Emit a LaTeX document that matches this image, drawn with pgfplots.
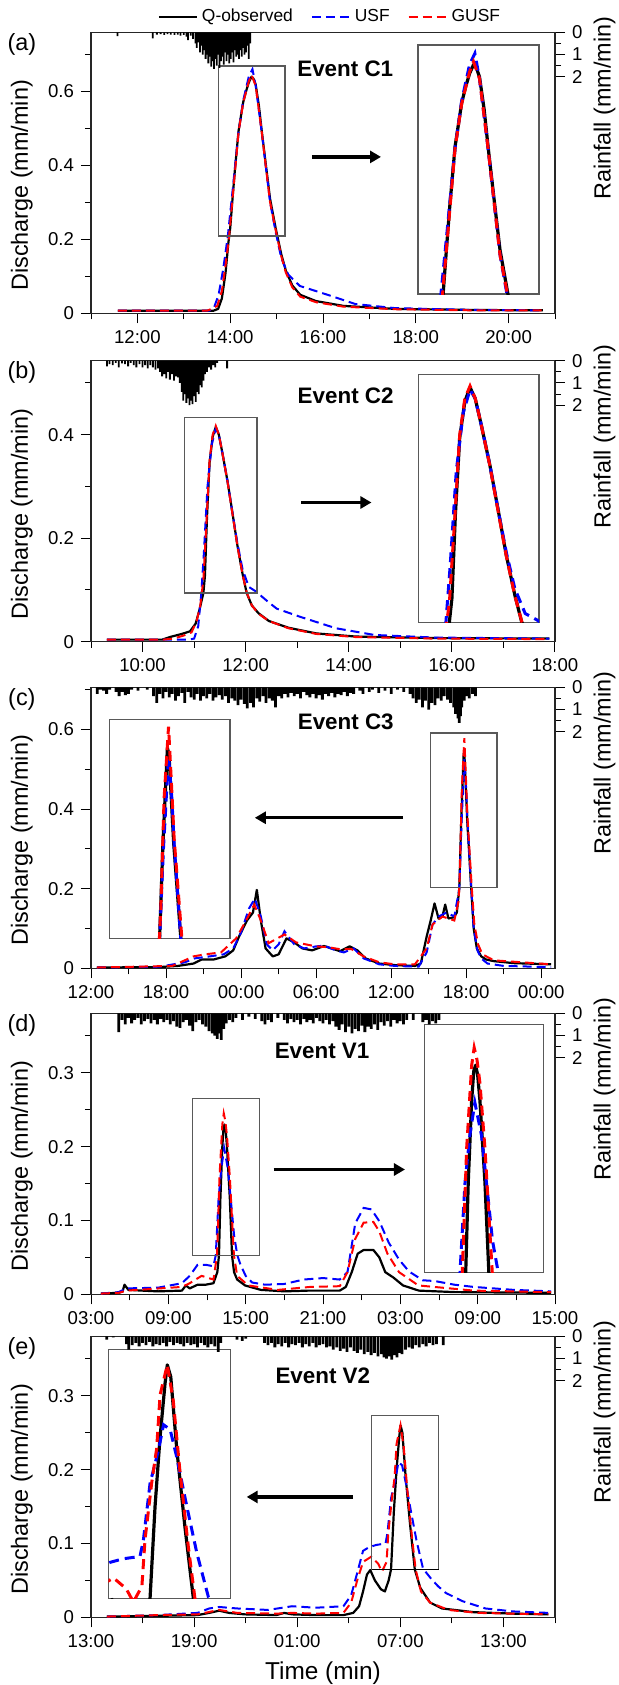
\documentclass[border=0pt]{standalone}
\usepackage{fontspec}
\setmainfont{Liberation Sans}
\usepackage{pgfplots}
\pgfplotsset{compat=1.18}
\usepackage{pgfplotstable}
\usetikzlibrary{arrows.meta}

\newcommand\tickfont{\fontsize{9.3}{10}\selectfont}
\newcommand\labfont{\fontsize{11.7}{12}\selectfont}
\newcommand\evfont{\bfseries\fontsize{11.2}{12}\selectfont}

% ---------------- Event C1 ----------------
\pgfplotstableread{
t q
11.58 0.007
13.64 0.007
13.74 0.012
13.82 0.040
13.90 0.110
13.96 0.190
14.00 0.230
14.05 0.310
14.10 0.386
14.18 0.493
14.28 0.571
14.34 0.600
14.40 0.624
14.46 0.640
14.50 0.635
14.55 0.618
14.62 0.560
14.68 0.493
14.77 0.400
14.86 0.309
14.98 0.230
15.10 0.160
15.20 0.115
15.34 0.075
15.51 0.050
15.85 0.033
16.44 0.020
17.55 0.012
19.25 0.009
20.74 0.008
}\obsA
\pgfplotstableread{
t q
11.58 0.007
13.55 0.007
13.65 0.015
13.75 0.050
13.85 0.120
13.95 0.210
14.05 0.330
14.18 0.490
14.28 0.575
14.40 0.640
14.48 0.660
14.55 0.615
14.68 0.490
14.86 0.300
14.98 0.220
15.10 0.150
15.25 0.105
15.50 0.074
16.10 0.050
16.70 0.025
17.55 0.014
19.25 0.009
20.74 0.008
}\usfA
\pgfplotstableread{
t q
11.58 0.007
13.50 0.007
13.62 0.013
13.72 0.020
13.82 0.060
13.90 0.130
13.97 0.200
14.05 0.310
14.18 0.490
14.28 0.570
14.40 0.627
14.46 0.645
14.55 0.615
14.68 0.490
14.86 0.300
14.98 0.225
15.10 0.155
15.20 0.110
15.34 0.070
15.51 0.045
15.85 0.030
16.44 0.018
17.55 0.011
19.25 0.008
20.74 0.008
}\gusfA
\pgfplotstableread{
t r
11.57 0.17
12.33 0.27
12.42 0.10
12.50 0.08
12.58 0.12
12.65 0.08
12.72 0.10
12.80 0.12
12.87 0.10
12.93 0.15
13.00 0.12
13.06 0.20
13.09 0.35
13.15 0.15
13.20 0.30
13.25 0.50
13.28 0.70
13.32 0.45
13.35 0.90
13.38 0.60
13.41 1.00
13.44 0.80
13.47 1.20
13.50 1.00
13.53 1.40
13.56 1.10
13.59 1.55
13.62 1.30
13.65 1.65
13.68 1.20
13.71 1.50
13.74 1.00
13.77 1.60
13.80 1.30
13.83 1.10
13.86 1.45
13.89 0.90
13.92 1.30
13.95 1.00
13.98 1.40
14.01 1.20
14.04 0.90
14.07 1.35
14.10 0.80
14.13 1.10
14.16 1.00
14.19 1.20
14.22 0.80
14.25 1.10
14.28 0.70
14.31 1.00
14.34 0.90
14.37 0.60
14.40 1.20
14.43 0.50
}\rainA

% ---------------- Event C2 ----------------
\pgfplotstableread{
t q
9.31 0.004
10.38 0.004
10.53 0.009
10.76 0.015
10.92 0.020
11.03 0.035
11.10 0.060
11.18 0.094
11.21 0.127
11.25 0.241
11.30 0.346
11.36 0.396
11.42 0.415
11.48 0.400
11.55 0.364
11.65 0.309
11.75 0.245
11.84 0.186
11.94 0.131
12.02 0.094
12.12 0.070
12.25 0.055
12.45 0.040
12.83 0.027
13.37 0.016
14.13 0.010
15.67 0.007
17.89 0.006
}\obsB
\pgfplotstableread{
t q
9.31 0.004
10.90 0.004
11.00 0.006
11.08 0.030
11.14 0.094
11.19 0.172
11.26 0.300
11.34 0.380
11.42 0.412
11.48 0.400
11.55 0.364
11.65 0.309
11.75 0.245
11.84 0.190
11.94 0.140
12.06 0.106
12.20 0.097
12.40 0.080
12.60 0.064
13.06 0.048
13.75 0.026
14.50 0.013
15.67 0.008
17.89 0.006
}\usfB
\pgfplotstableread{
t q
9.31 0.004
10.40 0.004
10.60 0.006
10.80 0.012
10.95 0.018
11.05 0.040
11.12 0.070
11.18 0.120
11.25 0.250
11.30 0.350
11.36 0.400
11.42 0.417
11.48 0.400
11.55 0.364
11.65 0.308
11.75 0.243
11.84 0.185
11.94 0.130
12.02 0.095
12.12 0.070
12.25 0.054
12.45 0.040
12.83 0.026
13.37 0.015
14.13 0.009
15.67 0.006
17.89 0.005
}\gusfB
\pgfplotstableread{
t r
9.31 0.25
9.36 0.15
9.42 0.20
9.48 0.10
9.54 0.30
9.60 0.12
9.66 0.15
9.72 0.25
9.77 0.10
9.83 0.20
9.88 0.30
9.94 0.15
10.00 0.30
10.05 0.20
10.10 0.35
10.15 0.20
10.20 0.30
10.25 0.40
10.30 0.35
10.34 0.50
10.38 0.70
10.42 0.60
10.46 0.80
10.50 0.50
10.53 0.85
10.57 0.60
10.61 0.90
10.65 0.70
10.69 0.75
10.72 1.00
10.76 1.40
10.79 1.80
10.82 1.50
10.85 1.90
10.88 1.70
10.91 2.00
10.94 1.80
10.97 1.95
11.00 1.60
11.03 1.85
11.06 1.40
11.09 1.50
11.12 1.10
11.15 1.20
11.18 0.90
11.21 0.60
11.25 0.50
11.29 0.30
11.33 0.40
11.37 0.20
11.41 0.30
11.45 0.10
11.64 0.35
}\rainB

% ---------------- Event C3 ----------------
\pgfplotstableread{
t q
12.47 0.002
17.37 0.003
18.95 0.006
20.20 0.012
20.84 0.022
21.79 0.022
22.74 0.030
23.37 0.045
23.84 0.080
24.47 0.120
24.95 0.140
25.26 0.197
25.58 0.120
25.96 0.050
26.53 0.030
27.00 0.035
27.63 0.075
28.26 0.065
28.90 0.050
29.68 0.045
30.63 0.056
31.42 0.048
31.90 0.043
32.68 0.055
33.31 0.045
33.94 0.025
35.05 0.012
36.30 0.008
37.90 0.006
38.37 0.012
38.84 0.080
39.16 0.120
39.47 0.163
39.79 0.125
40.10 0.130
40.32 0.160
40.58 0.125
41.00 0.128
41.25 0.140
41.45 0.202
41.60 0.371
41.80 0.540
41.87 0.528
42.08 0.371
42.40 0.202
42.60 0.100
42.85 0.050
43.20 0.030
43.60 0.022
44.21 0.018
45.79 0.013
48.79 0.010
}\obsC
\pgfplotstableread{
t q
12.47 0.002
17.50 0.004
19.50 0.015
20.30 0.025
21.50 0.030
22.60 0.035
23.37 0.050
24.00 0.090
24.63 0.150
25.10 0.175
25.58 0.130
26.06 0.060
26.53 0.045
27.00 0.060
27.47 0.093
28.26 0.060
29.05 0.050
30.00 0.055
30.63 0.057
31.58 0.045
32.21 0.040
33.00 0.050
33.79 0.025
35.05 0.010
36.30 0.006
38.20 0.004
38.84 0.040
39.31 0.110
39.79 0.130
40.42 0.140
41.05 0.130
41.45 0.200
41.62 0.360
41.85 0.525
42.00 0.450
42.10 0.370
42.40 0.200
42.60 0.100
42.90 0.045
43.20 0.025
43.70 0.012
45.00 0.006
48.79 0.003
}\usfC
\pgfplotstableread{
t q
12.47 0.002
18.50 0.006
20.20 0.030
21.10 0.035
22.40 0.040
23.60 0.075
24.40 0.120
25.05 0.160
25.58 0.120
26.20 0.063
27.47 0.085
28.40 0.065
30.00 0.055
30.95 0.053
31.90 0.048
32.84 0.048
33.79 0.030
35.05 0.015
36.30 0.010
37.90 0.010
38.84 0.050
39.31 0.110
40.10 0.130
41.05 0.120
41.40 0.170
41.50 0.250
41.65 0.450
41.85 0.578
41.95 0.500
42.10 0.380
42.45 0.200
42.65 0.110
42.95 0.060
43.30 0.035
44.21 0.020
48.79 0.010
}\gusfC
\pgfplotstableread{
t r
12.50 0.30
12.75 0.10
13.00 0.15
13.25 0.30
13.50 0.10
14.00 0.20
14.25 0.40
14.50 0.20
14.75 0.35
15.00 0.30
15.25 0.10
15.75 0.15
16.50 0.10
17.00 0.40
17.25 0.70
17.50 0.30
17.75 0.50
18.00 0.20
18.25 0.45
18.50 0.30
18.75 0.60
19.00 0.40
19.25 0.25
19.50 0.70
19.75 0.20
20.00 0.45
20.25 0.55
20.50 0.30
20.75 0.60
21.00 0.40
21.25 0.50
21.50 0.30
21.75 0.60
22.00 0.45
22.25 0.35
22.50 0.55
22.75 0.40
23.00 0.70
23.25 0.50
23.50 0.60
23.75 0.80
24.00 0.55
24.25 0.75
24.50 0.95
24.75 0.70
25.00 0.90
25.25 0.50
25.50 0.65
25.75 0.40
26.00 0.70
26.25 0.50
26.50 0.60
26.75 0.90
27.00 0.40
27.25 0.50
27.50 0.30
27.75 0.45
28.00 0.25
28.25 0.40
28.50 0.30
28.75 0.50
29.00 0.20
29.25 0.35
29.50 0.45
29.75 0.30
30.00 0.50
30.25 0.35
30.50 0.55
30.75 0.30
31.00 0.40
31.25 0.25
31.50 0.45
31.75 0.30
32.00 0.35
32.25 0.20
32.50 0.40
32.75 0.25
33.00 0.30
33.50 0.15
33.75 0.30
34.25 0.20
34.50 0.10
35.00 0.25
35.50 0.15
36.00 0.30
36.50 0.10
37.00 0.20
37.50 0.30
37.75 0.50
38.00 0.70
38.25 0.55
38.50 0.90
38.75 0.60
39.00 1.00
39.25 0.70
39.50 0.80
39.75 0.50
40.00 0.60
40.25 0.40
40.50 0.55
40.75 0.70
41.00 0.90
41.15 1.20
41.25 1.00
41.35 1.40
41.45 1.60
41.55 1.30
41.65 0.90
41.85 0.60
42.00 0.40
42.25 0.50
42.50 0.30
42.75 0.40
}\rainC

% ---------------- Event V1 ----------------
\pgfplotstableread{
t q
3.77 0.001
5.15 0.002
5.45 0.004
5.60 0.013
5.90 0.006
6.98 0.005
8.20 0.004
10.05 0.005
10.36 0.012
10.66 0.008
11.27 0.013
11.89 0.013
12.50 0.015
12.80 0.030
12.93 0.053
13.04 0.130
13.19 0.200
13.28 0.225
13.36 0.230
13.45 0.222
13.55 0.200
13.77 0.130
13.94 0.053
14.10 0.030
14.34 0.020
14.95 0.012
16.18 0.006
18.02 0.004
19.85 0.005
22.30 0.005
22.77 0.010
23.23 0.030
23.69 0.055
24.15 0.060
24.60 0.060
24.91 0.060
25.37 0.050
25.83 0.030
26.44 0.023
27.21 0.012
28.44 0.005
31.20 0.003
38.70 0.002
}\obsD
\pgfplotstableread{
t q
3.77 0.001
5.15 0.003
5.75 0.008
8.20 0.009
10.05 0.015
10.66 0.025
11.27 0.040
11.89 0.040
12.50 0.038
12.68 0.053
12.90 0.130
13.11 0.170
13.33 0.198
13.62 0.170
13.91 0.116
14.10 0.080
14.35 0.053
14.60 0.040
15.00 0.025
15.50 0.016
16.50 0.013
18.00 0.014
19.50 0.020
21.00 0.022
22.30 0.020
22.90 0.030
23.50 0.096
24.15 0.117
24.76 0.115
25.37 0.099
26.10 0.070
26.90 0.047
27.67 0.031
28.74 0.019
29.66 0.018
31.20 0.013
32.70 0.010
35.80 0.006
38.70 0.004
}\usfD
\pgfplotstableread{
t q
3.77 0.001
5.15 0.002
5.75 0.005
10.05 0.010
10.66 0.015
11.58 0.025
12.50 0.020
12.78 0.053
12.97 0.159
13.19 0.230
13.30 0.245
13.42 0.235
13.55 0.215
13.77 0.159
14.09 0.053
14.34 0.025
15.20 0.012
17.50 0.006
20.00 0.010
22.30 0.011
22.90 0.030
23.50 0.075
24.15 0.097
24.91 0.098
25.37 0.085
26.00 0.055
26.90 0.030
28.40 0.012
32.70 0.005
38.70 0.003
}\gusfD
\pgfplotstableread{
t r
5.15 0.85
5.40 0.30
5.65 0.50
5.90 0.20
6.15 0.45
6.40 0.30
6.65 0.20
6.90 0.50
7.15 0.35
7.40 0.25
7.65 0.45
7.90 0.30
8.15 0.50
8.40 0.25
8.65 0.40
8.90 0.30
9.15 0.50
9.40 0.35
9.65 0.60
9.90 0.65
10.15 0.40
10.40 0.30
10.65 0.55
10.90 0.80
11.15 0.40
11.40 0.30
11.65 0.50
11.90 0.60
12.15 0.80
12.40 0.90
12.60 1.00
12.80 1.15
12.95 0.90
13.10 1.20
13.30 0.70
13.50 0.45
13.75 0.30
14.00 0.40
14.25 0.20
14.75 0.30
15.25 0.15
15.75 0.25
16.25 0.35
16.50 0.50
16.75 0.30
17.00 0.40
17.50 0.20
18.00 0.30
18.25 0.45
18.50 0.25
18.75 0.40
19.00 0.30
19.25 0.50
19.50 0.25
19.75 0.40
20.00 0.30
20.25 0.45
20.50 0.20
20.75 0.35
21.00 0.45
21.25 0.30
21.50 0.50
21.75 0.35
22.00 0.60
22.25 0.75
22.50 0.50
22.75 0.85
23.00 0.60
23.25 0.90
23.50 0.70
23.75 0.80
24.00 0.55
24.25 0.85
24.50 0.60
24.75 0.70
25.00 0.50
25.25 0.75
25.50 0.40
25.75 0.55
26.00 0.35
26.25 0.60
26.50 0.30
26.75 0.45
27.00 0.35
27.25 0.50
27.50 0.30
28.00 0.30
28.75 0.40
29.00 0.30
29.25 0.50
29.50 0.35
29.75 0.45
30.00 0.30
}\rainD

% ---------------- Event V2 ----------------
\pgfplotstableread{
t q
13.92 0.001
16.90 0.002
19.20 0.003
19.88 0.006
20.46 0.009
21.03 0.006
21.95 0.004
23.78 0.003
24.24 0.006
24.70 0.004
26.08 0.003
27.69 0.003
28.26 0.006
28.60 0.015
28.83 0.035
29.06 0.058
29.25 0.064
29.52 0.050
29.87 0.038
30.10 0.035
30.32 0.050
30.46 0.065
30.62 0.142
30.78 0.200
30.94 0.245
31.01 0.260
31.12 0.250
31.31 0.190
31.57 0.125
31.84 0.065
32.16 0.040
32.73 0.020
33.42 0.012
35.26 0.007
37.55 0.005
39.62 0.004
}\obsE
\pgfplotstableread{
t q
13.92 0.001
16.90 0.003
19.20 0.006
19.88 0.012
20.46 0.014
21.50 0.012
23.30 0.010
24.70 0.015
26.08 0.013
27.69 0.015
28.14 0.030
28.49 0.060
28.83 0.090
29.18 0.095
29.60 0.098
30.14 0.100
30.25 0.114
30.46 0.161
30.73 0.189
30.89 0.210
31.10 0.206
31.31 0.183
31.63 0.142
31.95 0.103
32.32 0.066
32.80 0.052
33.20 0.042
33.65 0.033
34.60 0.022
35.95 0.012
37.55 0.008
39.62 0.006
}\usfE
\pgfplotstableread{
t q
13.92 0.001
16.90 0.003
19.20 0.004
20.46 0.010
21.50 0.006
23.80 0.005
24.70 0.006
26.08 0.005
27.69 0.006
28.14 0.020
28.49 0.050
28.83 0.075
29.30 0.082
29.70 0.073
29.93 0.062
30.20 0.075
30.30 0.114
30.51 0.161
30.67 0.190
30.78 0.235
31.01 0.260
31.20 0.230
31.41 0.172
31.68 0.108
31.89 0.065
32.20 0.035
32.73 0.020
33.80 0.010
35.50 0.006
39.62 0.004
}\gusfE
\pgfplotstableread{
t r
13.92 0.15
14.30 0.05
15.07 0.35
15.20 0.60
15.40 0.40
15.60 0.30
15.80 0.45
16.00 0.30
16.20 0.40
16.40 0.25
16.60 0.45
16.80 0.35
17.00 0.40
17.20 0.30
17.40 0.45
17.60 0.25
17.80 0.40
18.00 0.30
18.20 0.35
18.40 0.45
18.60 0.30
18.80 0.40
19.00 0.35
19.20 0.50
19.40 0.30
19.60 0.40
19.80 0.50
20.00 0.35
20.20 0.45
20.40 0.70
20.55 0.30
21.50 0.15
21.80 0.20
22.00 0.10
23.10 0.30
23.30 0.40
23.50 0.30
23.70 0.50
23.90 0.35
24.10 0.45
24.30 0.30
24.50 0.50
24.70 0.35
24.90 0.40
25.10 0.30
25.30 0.50
25.50 0.35
25.70 0.45
25.90 0.30
26.10 0.50
26.30 0.40
26.50 0.35
26.70 0.50
26.90 0.45
27.10 0.60
27.30 0.50
27.50 0.65
27.70 0.55
27.90 0.70
28.10 0.50
28.30 0.65
28.50 0.75
28.70 0.60
28.90 0.80
29.10 0.70
29.30 0.85
29.50 0.75
29.70 0.90
29.90 0.80
30.05 0.95
30.20 1.00
30.35 0.90
30.50 1.05
30.65 0.85
30.80 0.95
30.95 0.75
31.10 0.80
31.30 0.60
31.50 0.50
31.70 0.55
31.90 0.40
32.10 0.50
32.30 0.35
32.50 0.45
32.70 0.30
32.90 0.40
33.10 0.35
33.50 0.40
}\rainE

\tikzset{
  boxst/.style={black!65, line width=0.6pt},
  arr/.style={line width=1.6pt, -{Triangle[length=5.5pt,width=6pt]}},
}
\pgfplotsset{
  obs/.style={black, line width=1.1pt, line join=round},
  usf/.style={blue, line width=1pt, dash pattern=on 4.5pt off 2.5pt},
  gusf/.style={red, line width=1pt, dash pattern=on 4.5pt off 2.5pt},
  iobs/.style={black, line width=1.6pt, line join=round},
  iusf/.style={blue, line width=1.5pt, dash pattern=on 5pt off 3pt},
  igusf/.style={red, line width=1.5pt, dash pattern=on 5pt off 3pt},
  rain/.style={ybar, bar width=0.9pt, fill=black, draw=none},
  wrain/.style={ybar, bar width=1.4pt, fill=black, draw=none},
  mainax/.style={
    scale only axis, width=232pt, height=140.5pt, anchor=south west,
    tick align=outside, xtick pos=left, ytick pos=left,
    major tick length=5pt, minor tick length=3pt,
    tick style={black, line width=0.5pt},
    axis line style={black!85, line width=0.6pt},
    ymin=0, clip=false,
    tick label style={font=\tickfont},
    /pgf/number format/assume math mode=true,
    ylabel={Discharge (mm/min)},
    ylabel style={at={(axis description cs:-0.149,0.455)}, anchor=center, font=\labfont},
  },
  rainax/.style={
    scale only axis, width=232pt, height=140.5pt, anchor=south west,
    axis x line=none, axis y line*=right, y dir=reverse,
    ymin=0, ymax=12.65, ytick={0,1,2}, minor ytick={0.5,1.5},
    tick align=outside, major tick length=5pt, minor tick length=3pt,
    tick style={black, line width=0.5pt},
    axis line style={black!85, line width=0.6pt},
    tick label style={font=\tickfont},
    /pgf/number format/assume math mode=true,
    ylabel={Rainfall (mm/min)},
    ylabel style={at={(axis description cs:1.107,0.73)}, anchor=center, font=\labfont},
  },
  insetax/.style={
    scale only axis, anchor=south west, xtick=\empty, ytick=\empty,
    axis line style={black!65, line width=0.6pt},
    axis background/.style={fill=white}, clip=true,
  },
}

\begin{document}
\begin{tikzpicture}
\useasboundingbox (0,0) rectangle (309.5pt,-842.5pt);

% ===================== (a) =====================
\begin{axis}[mainax, at={(45.5pt,-156.65pt)},
  xmin=11, xmax=21, ymax=0.76,
  xtick={12,14,16,18,20}, xticklabels={12:00,14:00,16:00,18:00,20:00},
  minor xtick={11,13,15,17,19,21},
  ytick={0,0.2,0.4,0.6}, minor ytick={0.1,0.3,0.5,0.7},
  extra description/.code={\node[font=\labfont] at (-0.149,0.957) {(a)};},
  legend columns=3,
  legend style={draw=none, fill=none, at={(0.517,1.055)}, anchor=center,
    font=\fontsize{8.7}{9}\selectfont, inner sep=0pt,
    /tikz/every even column/.append style={column sep=7pt}},
  legend image code/.code={\draw[#1] (0pt,0pt) -- (19pt,0pt);},
]
\addplot[obs] table {\obsA};
\addlegendentry{Q-observed}
\addplot[usf] table {\usfA};
\addlegendentry{USF}
\addplot[gusf] table {\gusfA};
\addlegendentry{GUSF}
\draw[boxst] (axis cs:13.74,0.209) rectangle (axis cs:15.18,0.669);
\draw[arr] (axis cs:15.76,0.423) -- (axis cs:17.25,0.423);
\node[font=\evfont] at (axis cs:16.48,0.662) {Event C1};
\end{axis}
\begin{axis}[insetax, at={(209pt,-147pt)}, width=60.5pt, height=124.5pt,
  xmin=13.62, xmax=15.45, ymin=0.23, ymax=0.675]
\addplot[iobs] table {\obsA};
\addplot[iusf] table {\usfA};
\addplot[igusf] table {\gusfA};
\end{axis}
\begin{axis}[rainax, at={(45.5pt,-156.65pt)}, xmin=11, xmax=21]
\addplot[rain] table {\rainA};
\end{axis}

% ===================== (b) =====================
\begin{axis}[mainax, at={(45.5pt,-320.85pt)},
  xmin=9, xmax=18, ymax=0.543,
  xtick={10,12,14,16,18}, xticklabels={10:00,12:00,14:00,16:00,18:00},
  minor xtick={9,11,13,15,17},
  ytick={0,0.2,0.4}, minor ytick={0.1,0.3,0.5},
  extra description/.code={\node[font=\labfont] at (-0.149,0.957) {(b)};},
]
\addplot[obs] table {\obsB};
\addplot[usf] table {\usfB};
\addplot[gusf] table {\gusfB};
\draw[boxst] (axis cs:10.82,0.094) rectangle (axis cs:12.22,0.433);
\draw[arr] (axis cs:13.08,0.269) -- (axis cs:14.44,0.269);
\node[font=\evfont] at (axis cs:13.94,0.476) {Event C2};
\end{axis}
\begin{axis}[insetax, at={(209.15pt,-311.15pt)}, width=60.35pt, height=124pt,
  xmin=10.82, xmax=12.22, ymin=0.094, ymax=0.433]
\addplot[iobs] table {\obsB};
\addplot[iusf] table {\usfB};
\addplot[igusf] table {\gusfB};
\end{axis}
\begin{axis}[rainax, at={(45.5pt,-320.85pt)}, xmin=9, xmax=18]
\addplot[rain] table {\rainB};
\end{axis}

% ===================== (c) =====================
\begin{axis}[mainax, at={(45.5pt,-484.15pt)},
  xmin=12, xmax=49.1, ymax=0.7056,
  xtick={12,18,24,30,36,42,48},
  xticklabels={12:00,18:00,00:00,06:00,12:00,18:00,00:00},
  minor xtick={15,21,27,33,39,45},
  ytick={0,0.2,0.4,0.6}, minor ytick={0.1,0.3,0.5,0.7},
  extra description/.code={\node[font=\labfont] at (-0.149,0.957) {(c)};},
]
\addplot[obs] table {\obsC};
\addplot[usf] table {\usfC};
\addplot[gusf] table {\gusfC};
\draw[boxst] (axis cs:39.16,0.202) rectangle (axis cs:44.46,0.591);
\draw[arr] (axis cs:36.95,0.378) -- (axis cs:25.1,0.378);
\node[font=\evfont] at (axis cs:32.37,0.618) {Event C3};
\end{axis}
\begin{axis}[insetax, at={(54.65pt,-469.15pt)}, width=60.35pt, height=109.5pt,
  xmin=39.2, xmax=44.6, ymin=0.202, ymax=0.591]
\addplot[iobs] table {\obsC};
\addplot[iusf] table {\usfC};
\addplot[igusf] table {\gusfC};
\end{axis}
\begin{axis}[rainax, at={(45.5pt,-484.15pt)}, xmin=12, xmax=49.1]
\addplot[wrain] table {\rainC};
\end{axis}

% ===================== (d) =====================
\begin{axis}[mainax, at={(45.5pt,-647.15pt)},
  xmin=3, xmax=39, ymax=0.3805,
  xtick={3,9,15,21,27,33,39},
  xticklabels={03:00,09:00,15:00,21:00,03:00,09:00,15:00},
  minor xtick={6,12,18,24,30,36},
  ytick={0,0.1,0.2,0.3}, minor ytick={0.05,0.15,0.25,0.35},
  extra description/.code={\node[font=\labfont] at (-0.149,0.957) {(d)};},
]
\addplot[obs] table {\obsD};
\addplot[usf] table {\usfD};
\addplot[gusf] table {\gusfD};
\draw[boxst] (axis cs:10.88,0.053) rectangle (axis cs:16.09,0.265);
\draw[arr] (axis cs:17.16,0.169) -- (axis cs:27.36,0.169);
\node[font=\evfont] at (axis cs:20.93,0.329) {Event V1};
\end{axis}
\begin{axis}[insetax, at={(212.15pt,-636.15pt)}, width=59.5pt, height=124pt,
  xmin=11.12, xmax=16.32, ymin=0.053, ymax=0.265]
\addplot[iobs] table {\obsD};
\addplot[iusf] table {\usfD};
\addplot[igusf] table {\gusfD};
\end{axis}
\begin{axis}[rainax, at={(45.5pt,-647.15pt)}, xmin=3, xmax=39]
\addplot[wrain] table {\rainD};
\end{axis}

% ===================== (e) =====================
\begin{axis}[mainax, at={(45.5pt,-808.65pt)},
  xmin=13, xmax=40, ymax=0.3805,
  xtick={13,19,25,31,37},
  xticklabels={13:00,19:00,01:00,07:00,13:00},
  minor xtick={16,22,28,34,40},
  ytick={0,0.1,0.2,0.3}, minor ytick={0.05,0.15,0.25,0.35},
  extra description/.code={\node[font=\labfont] at (-0.149,0.957) {(e)};},
  xlabel={Time (min)},
  xlabel style={at={(axis description cs:0.5,-0.199)}, anchor=center,
    font=\fontsize{12.2}{13}\selectfont},
]
\addplot[obs] table {\obsE};
\addplot[usf] table {\usfE};
\addplot[gusf] table {\gusfE};
\draw[boxst] (axis cs:29.34,0.065) rectangle (axis cs:33.24,0.273);
\draw[black, line width=0.7pt] (axis cs:29.34,0.065) -- (axis cs:33.24,0.065);
\draw[arr] (axis cs:28.26,0.163) -- (axis cs:22.06,0.163);
\node[font=\evfont] at (axis cs:26.49,0.327) {Event V2};
\end{axis}
\begin{axis}[insetax, at={(54.15pt,-799.15pt)}, width=61.2pt, height=124.5pt,
  xmin=29.13, xmax=33.03, ymin=0.065, ymax=0.273]
\addplot[iobs] table {\obsE};
\addplot[iusf] table {\usfE};
\addplot[igusf] table {\gusfE};
\end{axis}
\begin{axis}[rainax, at={(45.5pt,-808.65pt)}, xmin=13, xmax=40]
\addplot[wrain] table {\rainE};
\end{axis}

\end{tikzpicture}
\end{document}
